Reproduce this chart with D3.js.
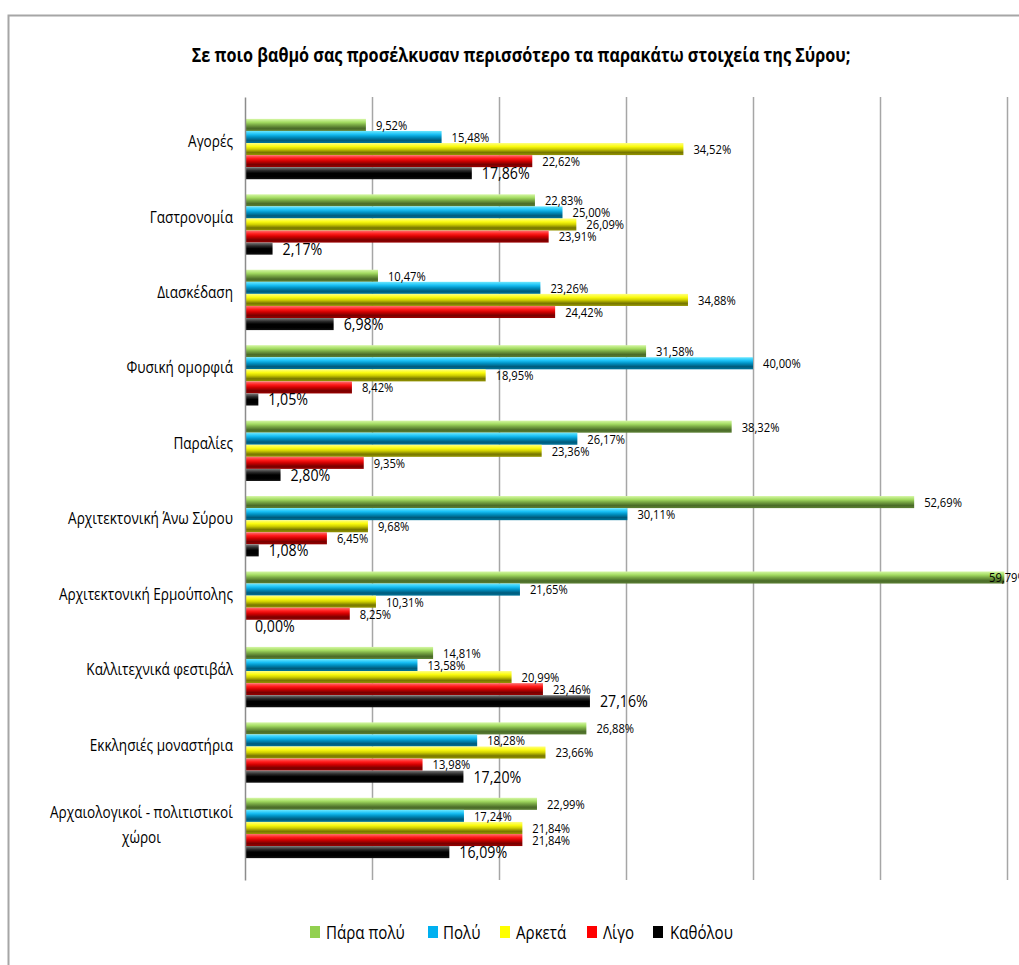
<!DOCTYPE html>
<html>
<head>
<meta charset="utf-8">
<script src="https://cdn.jsdelivr.net/npm/d3@7"></script>
<style>
  html, body { margin: 0; padding: 0; background: #fff; }
  svg { display: block; }
  text { font-family: "Open Sans", "Noto Sans", sans-serif; fill: #000; }
</style>
</head>
<body>
<script>
// Categories (top to bottom) and the five answer levels, in percent
const categories = [
  "Αγορές",
  "Γαστρονομία",
  "Διασκέδαση",
  "Φυσική ομορφιά",
  "Παραλίες",
  "Αρχιτεκτονική Άνω Σύρου",
  "Αρχιτεκτονική Ερμούπολης",
  "Καλλιτεχνικά φεστιβάλ",
  "Εκκλησιές μοναστήρια",
  "Αρχαιολογικοί - πολιτιστικοί χώροι"
];
const seriesNames = ["Πάρα πολύ", "Πολύ", "Αρκετά", "Λίγο", "Καθόλου"];
const paraPoly = [9.52, 22.83, 10.47, 31.58, 38.32, 52.69, 59.79, 14.81, 26.88, 22.99];
const poly     = [15.48, 25.00, 23.26, 40.00, 26.17, 30.11, 21.65, 13.58, 18.28, 17.24];
const arketa   = [34.52, 26.09, 34.88, 18.95, 23.36, 9.68, 10.31, 20.99, 23.66, 21.84];
const ligo     = [22.62, 23.91, 24.42, 8.42, 9.35, 6.45, 8.25, 23.46, 13.98, 21.84];
const katholou = [17.86, 2.17, 6.98, 1.05, 2.80, 1.08, 0.00, 27.16, 17.20, 16.09];
const xTicks = [0, 10, 20, 30, 40, 50, 60];

const seriesValues = [paraPoly, poly, arketa, ligo, katholou];
const baseColors = ["#92d050", "#00b0f0", "#ffff00", "#ff0000", "#000000"];
// pipe-like shading: light top edge, base colour, dark lower half
const gradStops = [
  [["0", "#d6f7a6"], ["0.28", "#a4dc62"], ["0.5", "#79a844"], ["0.78", "#4a6b28"], ["1", "#5c8034"]],
  [["0", "#6ce8ff"], ["0.28", "#1ac0f5"], ["0.5", "#0092c4"], ["0.78", "#005a7a"], ["1", "#00759c"]],
  [["0", "#ffff80"], ["0.28", "#fbfb10"], ["0.5", "#d0d000"], ["0.78", "#767600"], ["1", "#959500"]],
  [["0", "#ff7070"], ["0.28", "#ff1a1a"], ["0.5", "#d00000"], ["0.78", "#780000"], ["1", "#990000"]],
  [["0", "#7a7a7a"], ["0.28", "#2a2a2a"], ["0.5", "#000000"], ["0.78", "#000000"], ["1", "#111111"]]
];

const W = 1019, H = 965;
const NARROW = 0.8;   // horizontal squeeze for a condensed look

const svg = d3.select("body").append("svg")
  .attr("width", W).attr("height", H);

const defs = svg.append("defs");
gradStops.forEach((stops, i) => {
  const g = defs.append("linearGradient")
    .attr("id", "grad" + i)
    .attr("x1", 0).attr("y1", 0).attr("x2", 0).attr("y2", 1);
  stops.forEach(s => g.append("stop").attr("offset", s[0]).attr("stop-color", s[1]));
});

// chart frame
svg.append("rect")
  .attr("x", 8.5).attr("y", 15.5)
  .attr("width", W + 20).attr("height", H + 20)
  .attr("fill", "none").attr("stroke", "#a6a6a6").attr("stroke-width", 2);

// title
svg.append("text")
  .attr("transform", `translate(521,62) scale(0.81,1)`)
  .attr("text-anchor", "middle")
  .attr("font-size", 20).attr("font-weight", "bold")
  .text("Σε ποιο βαθμό σας προσέλκυσαν περισσότερο τα παρακάτω στοιχεία της Σύρου;");

const plot = { left: 245, right: 1007, top: 97, bottom: 880 };

const x = d3.scaleLinear().domain([0, 60]).range([plot.left, plot.right]);
const y = d3.scaleBand().domain(categories).range([plot.top, plot.bottom])
  .paddingInner(0.2).paddingOuter(0.29);
const ySub = d3.scaleBand().domain(d3.range(seriesNames.length)).range([0, y.bandwidth()]);

// vertical gridlines
const grid = svg.append("g")
  .attr("transform", `translate(0,${plot.bottom})`)
  .call(d3.axisBottom(x).tickValues(xTicks.slice(1)).tickSize(-(plot.bottom - plot.top)).tickFormat(""));
grid.select(".domain").remove();
grid.selectAll(".tick line").attr("stroke", "#a6a6a6").attr("stroke-width", 1.5);

// bars
const fmt = v => d3.format(".2f")(v).replace(".", ",") + "%";
const groups = svg.append("g").selectAll("g")
  .data(categories).join("g")
  .attr("transform", d => `translate(0,${y(d)})`);

groups.each(function (cat, ci) {
  const g = d3.select(this);
  seriesValues.forEach((vals, si) => {
    const v = vals[ci];
    g.append("rect")
      .attr("x", x(0)).attr("y", ySub(si))
      .attr("width", x(v) - x(0)).attr("height", ySub.bandwidth())
      .attr("fill", `url(#grad${si})`);
  });
});

// value labels
groups.each(function (cat, ci) {
  const g = d3.select(this);
  seriesValues.forEach((vals, si) => {
    const v = vals[ci];
    const big = si === 4;
    const lx = Math.min(x(v) + 10, 989);
    const ly = ySub(si) + ySub.bandwidth() / 2;
    g.append("text")
      .attr("transform", `translate(${lx},${ly}) scale(${big ? 0.86 : 0.83},1)`)
      .attr("dy", "0.36em")
      .attr("font-size", big ? 16.5 : 13.5)
      .attr("fill", "#1a1a1a")
      .text(fmt(v));
  });
});

// category axis
const yAxis = svg.append("g")
  .attr("transform", `translate(${plot.left},0)`)
  .call(d3.axisLeft(y).tickSize(0).tickFormat(""));
yAxis.select(".domain").attr("stroke", "#8c8c8c").attr("stroke-width", 1.5);

const labelRight = 233;
yAxis.selectAll(".tick").each(function (cat) {
  const t = d3.select(this);
  const words = cat.split(" - ");
  if (words.length > 1) {
    const lines = [words[0] + " - " + words[1].split(" ")[0], words[1].split(" ").slice(1).join(" ")];
    const lab = t.append("text")
      .attr("font-size", 17).attr("text-anchor", "middle");
    lab.selectAll("tspan").data(lines).join("tspan")
      .attr("x", 0).attr("y", (d, i) => -10 + i * 25)
      .text(d => d);
    const w = lab.node().getBBox().width * NARROW;
    lab.attr("transform", `translate(${labelRight - plot.left - w / 2},0) scale(${NARROW},1)`);
  } else {
    t.append("text")
      .attr("transform", `translate(${labelRight - plot.left},-8) scale(${NARROW},1)`)
      .attr("text-anchor", "end").attr("dy", "0.36em")
      .attr("font-size", 17)
      .text(cat);
  }
});

// legend
const legendItems = [
  { sq: 310, tx: 326 },
  { sq: 428, tx: 443 },
  { sq: 500, tx: 516 },
  { sq: 587, tx: 603 },
  { sq: 653, tx: 670 }
];
const legend = svg.append("g");
seriesNames.forEach((name, i) => {
  legend.append("rect")
    .attr("x", legendItems[i].sq).attr("y", 926)
    .attr("width", 10).attr("height", 12)
    .attr("fill", baseColors[i]);
  legend.append("text")
    .attr("transform", `translate(${legendItems[i].tx},933) scale(0.84,1)`)
    .attr("dy", "0.36em").attr("font-size", 18)
    .text(name);
});
</script>
</body>
</html>
